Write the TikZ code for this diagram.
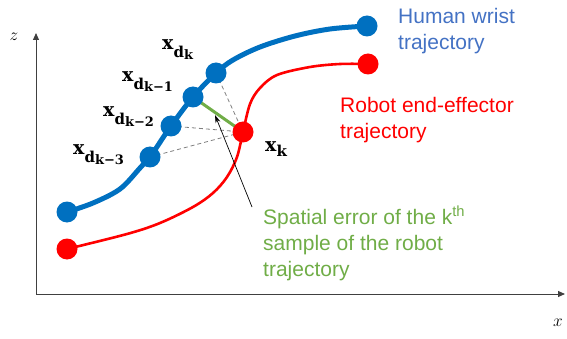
\documentclass[tikz,border=0pt]{standalone}
\usepackage[no-math]{fontspec}
\usetikzlibrary{arrows.meta}
\newfontfamily\arialf{Liberation Sans}
\newfontfamily\lblfont{DejaVu Serif}
\newcommand{\xdlab}[1]{{\lblfont\bfseries\fontsize{19}{21}\selectfont x\raisebox{-8pt}{\fontsize{15}{16}\selectfont d\raisebox{-1.5pt}{\fontsize{13}{14}\selectfont #1}}}}
\newcommand{\xklab}{{\lblfont\bfseries\fontsize{19}{21}\selectfont x\raisebox{-5pt}{\fontsize{15}{16}\selectfont k}}}
\definecolor{trajblue}{HTML}{0070C0}
\definecolor{txtblue}{HTML}{4472C4}
\definecolor{trajred}{HTML}{FF0000}
\definecolor{errgreen}{HTML}{70AD47}
\definecolor{axisgray}{HTML}{404040}
\definecolor{dashgray}{HTML}{808080}
\begin{document}
\begin{tikzpicture}[x=1pt,y=-1pt,
  bdot/.style={circle,fill=trajblue,minimum size=21pt,inner sep=0pt},
  rdot/.style={circle,fill=trajred,minimum size=21pt,inner sep=0pt},
  axisline/.style={draw=axisgray,line width=1pt,-{Triangle[length=7pt,width=6pt]}},
  dashline/.style={draw=dashgray,line width=0.8pt,dash pattern=on 4pt off 3pt},
  errline/.style={draw=errgreen,line width=3pt},
  mlabel/.style={anchor=base west,inner sep=0pt},
  txtlabel/.style={anchor=base west,inner sep=0pt,align=left,font=\arialf\fontsize{21}{26}\selectfont},
  axlabel/.style={inner sep=0pt,font=\fontsize{16}{18}\selectfont}]
\useasboundingbox (0,0) rectangle (567,339);

% axes
\coordinate (o) at (36,294);
\coordinate (zend) at (36,33);
\coordinate (xend) at (565,294);
\draw[axisline] (o) -- (zend);
\draw[axisline] (o) -- (xend);
\node[axlabel] (zlab) at (14,37) {$z$};
\node[axlabel] (xlab) at (558,323) {$x$};

% key points
\coordinate (b0) at (67,212);
\coordinate (d3) at (150,157);
\coordinate (d2) at (171,126);
\coordinate (d1) at (193,97);
\coordinate (d0) at (216,73);
\coordinate (b1) at (367,26);
\coordinate (r0) at (67,249);
\coordinate (xk) at (243,132);
\coordinate (r1) at (368,64);

% trajectories
\draw[trajblue,line width=5pt,line cap=round] plot[smooth,tension=0.55] coordinates
  {(b0) (93,203) (120,189) (140,168) (d3) (d2) (d1) (d0) (233,60) (260,47) (295,36) (330,29) (b1)};
\draw[trajred,line width=2.6pt,line cap=round] plot[smooth,tension=0.55] coordinates
  {(r0) (127,234) (160,223) (193,207) (213,193) (227,177) (237,157) (xk) (250,104) (260,88) (277,75) (310,67) (340,64) (r1)};

% error connectors
\draw[dashline] (d0) -- (xk);
\draw[dashline] (d2) -- (xk);
\draw[dashline] (d3) -- (xk);
\draw[errline] (d1) -- (xk);

% dots
\node[bdot] (nb0) at (b0) {};
\node[bdot] (nd3) at (d3) {};
\node[bdot] (nd2) at (d2) {};
\node[bdot] (nd1) at (d1) {};
\node[bdot] (nd0) at (d0) {};
\node[bdot] (nb1) at (b1) {};
\node[rdot] (nr0) at (r0) {};
\node[rdot] (nxk) at (xk) {};
\node[rdot] (nr1) at (r1) {};

% labels
\node[mlabel] (l0) at (162,50) {\xdlab{k}};
\node[mlabel] (l1) at (122,82) {\xdlab{k−1}};
\node[mlabel] (l2) at (103,117) {\xdlab{k−2}};
\node[mlabel] (l3) at (73,155) {\xdlab{k−3}};
\node[mlabel] (lk) at (265,152) {\xklab};

\node[txtlabel,text=txtblue] (human) at (398,50) {Human wrist\\trajectory};
\node[txtlabel,text=trajred] (robot) at (340,139) {Robot end-effector\\trajectory};
\node[txtlabel,text=errgreen] (err) at (263,276) {Spatial error of the k\textsuperscript{th}\\sample of the robot\\trajectory};

% pointer arrow
\coordinate (ptail) at (252,207);
\coordinate (phead) at (215,115);
\draw[black,line width=0.7pt,-{Stealth[length=8pt,width=5pt]}] (ptail) -- (phead);
\end{tikzpicture}
\end{document}
